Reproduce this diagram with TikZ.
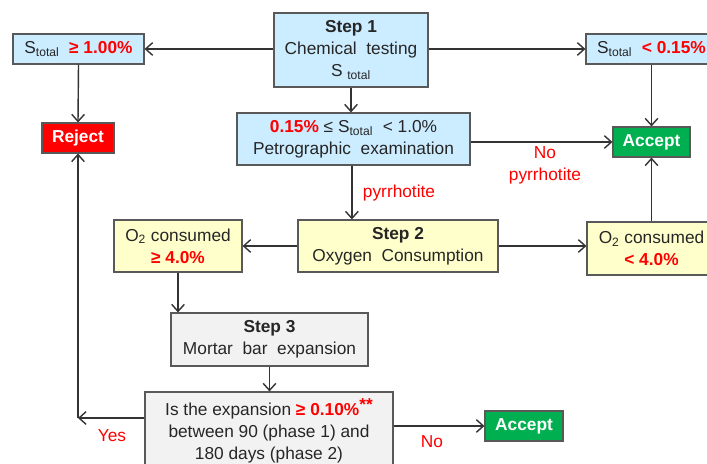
\documentclass[tikz,border=0pt]{standalone}
\usepackage{fontspec}
\setmainfont{Liberation Sans}
\usetikzlibrary{arrows.meta, positioning}
\definecolor{chemcolor}{RGB}{204, 236, 255}
\definecolor{oxycolor}{RGB}{255, 255, 204}
\definecolor{mortarcolor}{RGB}{242, 242, 242}
\definecolor{rejectcolor}{RGB}{255, 0, 0}
\definecolor{acceptcolor}{RGB}{0, 176, 80}
\definecolor{limitcolor}{RGB}{255, 0, 0}
\definecolor{edgecolor}{RGB}{89, 89, 89}
\newcommand{\crit}[1]{\textcolor{limitcolor}{\bfseries #1}}
\newcommand{\boxfont}{\fontsize{12.3}{15.6}\selectfont}
\tikzset{
	box/.style={draw=edgecolor, line width=0.8pt, shape=rectangle, align=center, inner sep=1pt, text=black!85, font=\boxfont},
	chem/.style={box, fill=chemcolor},
	oxy/.style={box, fill=oxycolor},
	mortar/.style={box, fill=mortarcolor},
	reject/.style={box, fill=rejectcolor, text=white, font=\boxfont\bfseries},
	accept/.style={box, fill=acceptcolor, text=white, font=\boxfont\bfseries},
	flow/.style={-{Straight Barb[length=5pt, width=9pt]}, line width=1pt, color=black!80},
	annotation/.style={font=\boxfont, text=limitcolor, align=center}
}

\begin{document}
\begin{tikzpicture}[x=0.025cm, y=-0.025cm]
		\useasboundingbox (0,0) rectangle (707,464);
		
		% Step 1
		\node (step1) [chem, minimum width=3.85cm, minimum height=1.85cm] at (351,50)
			{\textbf{Step 1}\\Chemical\ \ testing\\S \textsubscript{total}};
		\node (shigh) [chem, minimum width=3.275cm, minimum height=0.75cm] at (78.5,49)
			{S\textsubscript{total}\ \ \crit{≥ 1.00\%}};
		\node (slow) [chem, minimum width=3.275cm, minimum height=0.75cm] at (651.5,49)
			{S\textsubscript{total}\ \ \crit{< 0.15\%}};
		\node (reject) [reject, minimum width=1.8cm, minimum height=0.75cm] at (78,138) {Reject};
		\node (petro) [chem, minimum width=5.825cm, minimum height=1.3cm] at (353.5,139)
			{\crit{0.15\%} ≤ S\textsubscript{total}\ \ < 1.0\%\\Petrographic\ \ examination};
		\node (accept1) [accept, minimum width=1.925cm, minimum height=0.75cm] at (651.5,142) {Accept};
		
		% Step 2
		\node (step2) [oxy, minimum width=5cm, minimum height=1.3cm] at (398,246)
			{\textbf{Step 2}\\Oxygen\ \ Consumption};
		\node (o2high) [oxy, minimum width=3.2cm, minimum height=1.3cm] at (178,246)
			{O\textsubscript{2} consumed\\\crit{≥ 4.0\%}};
		\node (o2low) [oxy, minimum width=3.225cm, minimum height=1.325cm] at (651.5,248.5)
			{O\textsubscript{2} consumed\\\crit{< 4.0\%}};
		
		% Step 3
		\node (step3) [mortar, minimum width=4.925cm, minimum height=1.325cm] at (269.5,339.5)
			{\textbf{Step 3}\\Mortar\ \ bar\ \ expansion};
		\node (expansion) [mortar, minimum width=6.2cm, minimum height=1.95cm] at (269,431)
			{Is the expansion \crit{≥ 0.10\%}\raisebox{0.55ex}{\crit{**}}\\between 90 (phase 1) and\\180 days (phase 2)};
		\node (accept2) [accept, minimum width=1.95cm, minimum height=0.75cm] at (524,426) {Accept};
		\coordinate (yescorner) at (78,418);
		
		% Annotations
		\node (pyrr) [annotation, anchor=west] at (358,193) {pyrrhotite};
		\node (nopyrr) [annotation] at (545,165) {No\\pyrrhotite};
		\node (yes) [annotation] at (112,436) {Yes};
		\node (no) [annotation] at (432,442) {No};
		
		% Arrows
		\draw [flow] (step1.west |- shigh.east) -- (shigh.east);
		\draw [flow] (step1.east |- slow.west) -- (slow.west);
		\draw [flow] (step1.south) -- (step1.south |- petro.north);
		\draw [flow] (shigh.south) -- (reject.north);
		\draw [flow] (slow.south) -- (accept1.north);
		\draw [flow] (petro.east |- accept1.west) -- (accept1.west);
		\draw [flow] ([xshift=-0.04cm]petro.south) -- ([xshift=-0.04cm]petro.south |- step2.north);
		\draw [flow] (step2.west) -- (o2high.east);
		\draw [flow] (step2.east) -- (step2.east -| o2low.west);
		\draw [flow] (o2low.north) -- (accept1.south);
		\draw [flow] (o2high.south) -- (o2high.south |- step3.north);
		\draw [flow] (step3.south) -- (step3.south |- expansion.north);
		\draw [flow] (expansion.west |- yescorner) -- (yescorner);
		\draw [flow] (yescorner) -- (reject.south);
		\draw [flow] (expansion.east |- accept2.west) -- (accept2.west);
		
\end{tikzpicture}
\end{document}
